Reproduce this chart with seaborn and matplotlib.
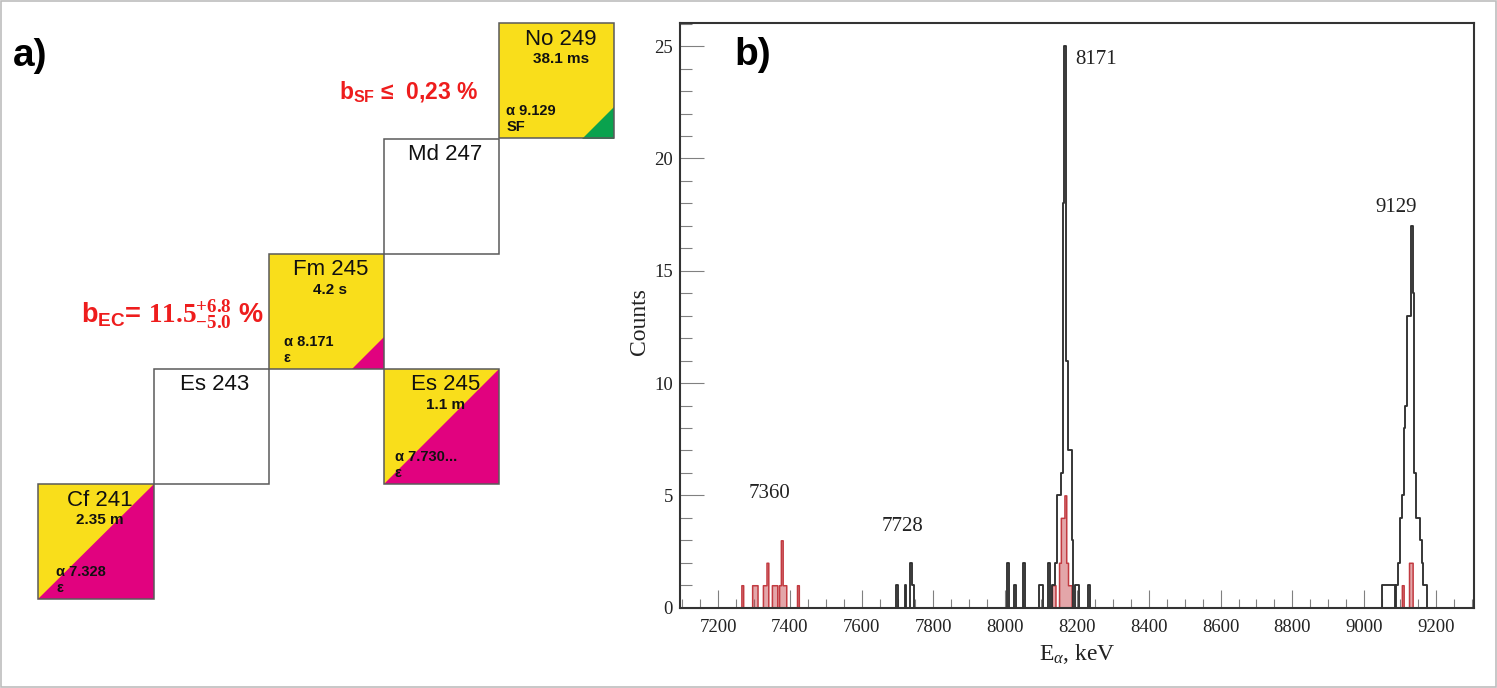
import matplotlib
matplotlib.use("Agg")
import matplotlib.pyplot as plt
from matplotlib.patches import Polygon, Rectangle
from matplotlib.ticker import MultipleLocator
import seaborn as sns

# ---------------- data: alpha spectrum (5 keV bins, bin centres in keV) ----------------
black_energy = [7697.5, 7722.5, 7737.5, 7742.5,
                8007.5, 8027.5, 8052.5, 8097.5, 8102.5, 8122.5, 8132.5, 8137.5,
                8142.5, 8147.5, 8152.5, 8157.5, 8162.5, 8167.5, 8172.5, 8177.5,
                8182.5, 8187.5, 8197.5, 8202.5, 8232.5,
                9052.5, 9057.5, 9062.5, 9067.5, 9072.5, 9077.5, 9082.5,
                9092.5, 9097.5, 9102.5, 9107.5, 9112.5, 9117.5, 9122.5, 9127.5,
                9132.5, 9137.5, 9142.5, 9147.5, 9152.5, 9157.5, 9162.5, 9167.5,
                9172.5]
black_counts = [1, 1, 2, 1,
                2, 1, 2, 1, 1, 2, 1, 1,
                2, 5, 5, 6, 18, 25, 11, 7,
                7, 3, 1, 1, 1,
                1, 1, 1, 1, 1, 1, 1,
                1, 2, 4, 5, 8, 9, 13, 13,
                17, 14, 6, 4, 4, 3, 2, 1,
                1]

red_energy = [7267.5, 7297.5, 7302.5, 7307.5, 7327.5, 7332.5, 7337.5,
              7352.5, 7357.5, 7362.5, 7372.5, 7377.5, 7382.5, 7387.5, 7422.5,
              8132.5, 8137.5, 8152.5, 8157.5, 8162.5, 8167.5, 8172.5, 8177.5,
              8182.5, 9107.5, 9127.5, 9132.5]
red_counts = [1, 1, 1, 1, 1, 1, 2,
              1, 1, 1, 1, 3, 1, 1, 1,
              1, 1, 2, 4, 4, 5, 2, 1,
              1, 1, 2, 2]

peak_labels = ["7360", "7728", "8171", "9129"]
peak_label_e = [7342, 7715, 8252, 9089]
peak_label_c = [5.1, 3.6, 24.4, 17.8]

# ---------------- data: chart of nuclides ----------------
nuclide_names = ["Cf 241", "Es 243", "Fm 245", "Es 245", "Md 247", "No 249"]
half_lives = ["2.35 m", "", "4.2 s", "1.1 m", "", "38.1 ms"]
decay_alpha = ["α 7.328", "", "α 8.171", "α 7.730...", "", "α 9.129"]
decay_other = ["ε", "", "ε", "ε", "", "SF"]
branch_kind = ["half", "none", "corner", "half", "none", "corner"]
branch_mode = ["ec", "", "ec", "ec", "", "sf"]
grid_col = [0, 1, 2, 3, 3, 4]
grid_row = [4, 3, 2, 3, 1, 0]

YELLOW = "#F9DE1B"
MAGENTA = "#E1027F"
GREEN = "#0AA24E"
RED = "#EE1D1D"

sns.set_style("white")
plt.rcParams["font.family"] = ["Liberation Sans", "DejaVu Sans"]
plt.rcParams["mathtext.fontset"] = "custom"
plt.rcParams["mathtext.rm"] = "Liberation Serif"
plt.rcParams["mathtext.it"] = "Liberation Serif:italic"
plt.rcParams["mathtext.bf"] = "Liberation Serif:bold"
plt.rcParams["mathtext.sf"] = "Liberation Sans:bold"

W, H = 1497, 688
fig = plt.figure(figsize=(W / 100, H / 100), dpi=100)
fig.patch.set_facecolor("white")

# overlay axes in pixel coordinates
axo = fig.add_axes([0, 0, 1, 1], zorder=0)
axo.set_xlim(0, W)
axo.set_ylim(H, 0)
axo.axis("off")
axo.add_patch(Rectangle((0.5, 0.5), W - 1.5, H - 1.5, fill=False,
                        edgecolor="#bdbdbd", lw=1.2))

S = 115.2
X0, Y0 = 38.3, 23.3
decay_dx = [18, 0, 15, 11, 0, 7]
for i, name in enumerate(nuclide_names):
    x = X0 + grid_col[i] * S
    y = Y0 + grid_row[i] * S
    if branch_kind[i] == "none":
        axo.add_patch(Rectangle((x, y), S, S, facecolor="white",
                                edgecolor="#5a5a5a", lw=1.1))
    else:
        axo.add_patch(Rectangle((x, y), S, S, facecolor=YELLOW,
                                edgecolor="none"))
        col = MAGENTA if branch_mode[i] == "ec" else GREEN
        if branch_kind[i] == "half":
            tri = [(x, y + S), (x + S, y + S), (x + S, y)]
        else:
            L = 32
            tri = [(x + S - L, y + S), (x + S, y + S), (x + S, y + S - L)]
        axo.add_patch(Polygon(tri, closed=True, facecolor=col, edgecolor="none"))
        axo.add_patch(Rectangle((x, y), S, S, fill=False,
                                edgecolor="#5a5a5a", lw=1.1))
    axo.text(x + S / 2 + 4, y + 16, name, fontsize=16, ha="center",
             va="center", color="#111111")
    if half_lives[i]:
        axo.text(x + S / 2 + 4, y + 36, half_lives[i], fontsize=11,
                 fontweight="bold", ha="center", va="center", color="#111111")
    if decay_alpha[i]:
        axo.text(x + decay_dx[i], y + 88, decay_alpha[i], fontsize=10.5,
                 fontweight="bold", ha="left", va="center", color="#111111")
        axo.text(x + decay_dx[i], y + 104, decay_other[i], fontsize=10.5,
                 fontweight="bold", ha="left", va="center", color="#111111")

axo.text(339, 99, r"$\mathsf{b}_{\mathsf{SF}}$ ≤  0,23 %", fontsize=16.5,
         fontweight="bold", color=RED, ha="left", va="baseline")
axo.text(81, 323, r"$\mathsf{b}_{\mathsf{EC}}$= $\mathbf{11.5^{+6.8}_{-5.0}}$ %",
         fontsize=19.5, fontweight="bold", color=RED, ha="left", va="baseline")

axo.text(30, 56, "a)", fontsize=28, fontweight="bold", ha="center",
         va="center", color="black")

# ---------------- spectrum ----------------
L, R, T, B = 680, 1474, 23, 607.7
axh = fig.add_axes([L / W, (H - B) / H, (R - L) / W, (B - T) / H], zorder=2)
axh.set_facecolor("white")

sns.histplot(x=black_energy, weights=black_counts, binwidth=5,
             binrange=(7090, 9310), element="step", fill=False,
             color="#303030", linewidth=1.35, ax=axh)
sns.histplot(x=red_energy, weights=red_counts, binwidth=5,
             binrange=(7090, 9310), element="step", fill=True,
             color="#C23A40", alpha=0.45, linewidth=1.1, ax=axh)

axh.set_xlim(7094, 9306)
axh.set_ylim(0, 26.03)
axh.xaxis.set_major_locator(MultipleLocator(200))
axh.xaxis.set_minor_locator(MultipleLocator(50))
axh.yaxis.set_major_locator(MultipleLocator(5))
axh.yaxis.set_minor_locator(MultipleLocator(1))
axh.tick_params(axis="x", which="major", direction="in", length=13, width=0.8,
                color="#808080", labelsize=13.5, pad=8, top=False, bottom=True)
axh.tick_params(axis="x", which="minor", direction="in", length=6.5,
                width=0.8, color="#808080", top=False, bottom=True)
axh.tick_params(axis="y", which="major", direction="in", length=17, width=0.8,
                color="#808080", labelsize=13.5, pad=5, right=False, left=True)
axh.tick_params(axis="y", which="minor", direction="in", length=8.5,
                width=0.8, color="#808080", right=False, left=True)
for lab in axh.get_xticklabels() + axh.get_yticklabels():
    lab.set_family("Liberation Serif")
    lab.set_color("#222222")
for sp in axh.spines.values():
    sp.set_linewidth(1.5)
    sp.set_color("#333333")
    sp.set_visible(True)

axh.set_ylabel("Counts", fontsize=17, family="Liberation Serif", color="#222222")
axh.set_xlabel(r"E$_\alpha$, keV", fontsize=17, family="Liberation Serif",
               color="#222222")
axh.yaxis.set_label_coords(-0.038, 0.49)
axh.xaxis.set_label_coords(0.5, -0.058)

for lab, e, c in zip(peak_labels, peak_label_e, peak_label_c):
    axh.text(e, c, lab, fontsize=15, family="Liberation Serif", ha="center",
             va="center", color="#222222")

fig.text(753 / W, 1 - 55 / H, "b)", fontsize=28, fontweight="bold",
         ha="center", va="center", color="black")

fig.savefig("out.png", dpi=100, facecolor="white")
